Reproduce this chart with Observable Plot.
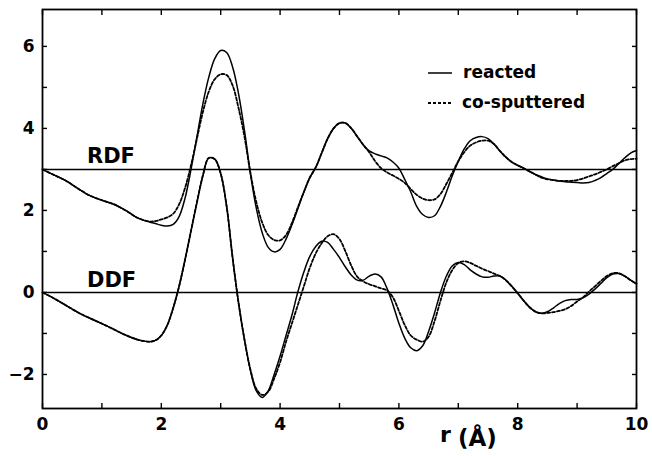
<!DOCTYPE html>
<html><head><meta charset="utf-8">
<script src="https://cdn.jsdelivr.net/npm/d3@7"></script>
<script src="https://cdn.jsdelivr.net/npm/@observablehq/plot@0.6"></script>
<style>body{margin:0;background:#fff} svg{display:block}</style>
</head><body><div id="chart"></div>
<script>
const r = [0,0.2,0.4,0.6,0.8,1.0,1.2,1.4,1.6,
  1.8,1.9,2.0,2.1,2.2,2.3,2.4,2.5,2.6,2.7,2.8,2.9,3.0,3.1,3.2,3.3,3.4,3.5,3.6,3.7,3.8,3.9,
  4.0,4.1,4.2,4.3,4.4,4.5,4.6,4.7,4.8,4.9,5.0,5.1,5.2,5.3,5.4,5.5,5.6,5.7,5.8,5.9,
  6.0,6.1,6.2,6.3,6.4,6.5,6.6,6.7,6.8,6.9,7.0,7.1,7.2,7.3,7.4,7.5,7.6,7.7,7.8,7.9,
  8.0,8.1,8.2,8.3,8.4,8.5,8.6,8.7,8.8,8.9,9.0,9.1,9.2,9.3,9.4,9.5,9.6,9.7,9.8,9.9,10.0];

const rdfReacted = [3.0,2.86,2.72,2.53,2.36,2.25,2.15,2.0,1.82,
  1.72,1.68,1.64,1.62,1.66,1.85,2.3,3.0,3.8,4.6,5.25,5.7,5.9,5.85,5.5,4.85,3.95,2.9,2.05,1.45,1.1,0.99,
  1.05,1.3,1.65,2.05,2.45,2.8,3.05,3.4,3.75,4.0,4.13,4.13,4.0,3.8,3.6,3.45,3.38,3.33,3.28,3.18,
  3.03,2.75,2.45,2.1,1.9,1.83,1.87,2.1,2.45,2.85,3.2,3.5,3.7,3.78,3.8,3.75,3.62,3.45,3.3,3.18,
  3.1,3.03,2.95,2.88,2.82,2.77,2.74,2.72,2.7,2.69,2.68,2.67,2.68,2.73,2.8,2.9,3.0,3.14,3.28,3.4,3.46];

const rdfCosputtered = [3.0,2.86,2.72,2.53,2.36,2.25,2.15,2.0,1.82,
  1.73,1.74,1.78,1.83,1.92,2.15,2.55,3.1,3.75,4.4,4.9,5.2,5.32,5.3,5.05,4.5,3.8,2.92,2.2,1.7,1.4,1.28,
  1.27,1.4,1.7,2.08,2.45,2.8,3.05,3.4,3.75,4.0,4.13,4.13,4.0,3.8,3.6,3.42,3.2,3.03,2.93,2.85,
  2.77,2.67,2.52,2.38,2.29,2.25,2.27,2.4,2.65,2.92,3.2,3.42,3.58,3.66,3.7,3.7,3.62,3.45,3.3,3.18,
  3.1,3.03,2.95,2.87,2.8,2.76,2.74,2.72,2.72,2.72,2.74,2.78,2.83,2.88,2.94,3.0,3.08,3.15,3.22,3.25,3.26];

const ddfReacted = [0,-0.15,-0.32,-0.49,-0.63,-0.76,-0.9,-1.04,-1.15,
  -1.2,-1.17,-1.05,-0.8,-0.38,0.15,0.8,1.5,2.2,2.85,3.28,3.25,2.9,2.1,0.85,-0.25,-1.15,-1.9,-2.4,-2.56,-2.4,-2.0,
  -1.55,-1.05,-0.55,0.02,0.5,0.88,1.12,1.25,1.22,1.05,0.85,0.62,0.42,0.3,0.3,0.4,0.45,0.38,0.1,-0.3,
  -0.75,-1.12,-1.35,-1.42,-1.3,-0.95,-0.5,0.0,0.4,0.65,0.73,0.68,0.55,0.45,0.38,0.37,0.4,0.4,0.3,0.15,
  -0.02,-0.2,-0.36,-0.47,-0.51,-0.47,-0.38,-0.27,-0.2,-0.17,-0.17,-0.13,-0.04,0.08,0.22,0.36,0.45,0.46,0.4,0.3,0.21];

const ddfCosputtered = [0,-0.15,-0.32,-0.49,-0.63,-0.76,-0.9,-1.04,-1.15,
  -1.2,-1.17,-1.05,-0.8,-0.38,0.15,0.8,1.5,2.2,2.85,3.28,3.25,2.9,2.1,0.85,-0.25,-1.15,-1.88,-2.35,-2.5,-2.42,-2.1,
  -1.7,-1.2,-0.75,-0.3,0.15,0.6,0.95,1.2,1.37,1.42,1.3,1.0,0.65,0.38,0.27,0.2,0.15,0.1,0.05,-0.12,
  -0.45,-0.8,-1.05,-1.15,-1.2,-1.08,-0.7,-0.2,0.25,0.55,0.72,0.76,0.72,0.65,0.58,0.52,0.46,0.4,0.3,0.15,
  -0.02,-0.2,-0.36,-0.47,-0.51,-0.5,-0.48,-0.45,-0.41,-0.33,-0.22,-0.12,0.02,0.15,0.28,0.4,0.47,0.47,0.4,0.3,0.21];

const xTicks = [0,1,2,3,4,5,6,7,8,9,10];
const xTickLabels = ["0","","2","","4","","6","","8","","10"];
const yTicks = [-2,-1,0,1,2,3,4,5,6];
const yTickLabels = ["\u22122","","0","","2","","4","","6"];
const baselines = [0, 3];
const panelLabels = ["RDF", "DDF"];
const seriesNames = ["reacted", "co-sputtered"];
const xLabel = ["r", "(\u00c5)"];

function rows(ys, series, panel) { return r.map((x, i) => ({r: x, v: ys[i], series, panel})); }
const reacted = [...rows(rdfReacted, seriesNames[0], "RDF"), ...rows(ddfReacted, seriesNames[0], "DDF")];
const cosp = [...rows(rdfCosputtered, seriesNames[1], "RDF"), ...rows(ddfCosputtered, seriesNames[1], "DDF")];

const fmtX = d => xTickLabels[xTicks.indexOf(d)];
const fmtY = d => yTickLabels[yTicks.indexOf(d)];
const none = () => "";

const plot = Plot.plot({
  width: 652, height: 456,
  marginLeft: 42, marginRight: 16, marginTop: 9, marginBottom: 48,
  x: {domain: [0, 10]},
  y: {domain: [-2.83, 6.9]},
  style: {fontFamily: "DejaVu Sans", fontWeight: "bold", fontSize: "16px", color: "#000", background: "#fff"},
  marks: [
    Plot.ruleY(baselines, {strokeWidth: 1.5}),
    Plot.line(cosp, {x: "r", y: "v", z: "panel", curve: "catmull-rom", strokeWidth: 1.8, strokeDasharray: "3,2"}),
    Plot.line(reacted, {x: "r", y: "v", z: "panel", curve: "catmull-rom", strokeWidth: 1.5}),
    // labels
    Plot.axisX({ticks: xTicks, tickFormat: fmtX, tickSize: 0, tickPadding: 9, label: null, fontSize: 17}),
    Plot.axisY({ticks: yTicks, tickFormat: fmtY, tickSize: 0, tickPadding: 8, label: null, fontSize: 17}),
    // inward ticks
    Plot.axisX({anchor: "bottom", ticks: xTicks, tickFormat: none, tickSize: 5, dy: -5, label: null, strokeWidth: 1.4}),
    Plot.axisX({anchor: "top", ticks: xTicks, tickFormat: none, tickSize: 5, dy: 5, label: null, strokeWidth: 1.4}),
    Plot.axisY({anchor: "left", ticks: yTicks, tickFormat: none, tickSize: 5, dx: 5, label: null, strokeWidth: 1.4}),
    Plot.axisY({anchor: "right", ticks: yTicks, tickFormat: none, tickSize: 5, dx: -5, label: null, strokeWidth: 1.4}),
    Plot.frame({strokeWidth: 1.8})
  ]
});

const svg = d3.select(plot);
function label(x, y, txt, size, weight) {
  svg.append("text").attr("x", x).attr("y", y).text(txt)
    .attr("text-anchor", "start")
    .attr("font-family", "DejaVu Sans").attr("font-size", size).attr("font-weight", weight);
}
// panel labels
label(87, 163, panelLabels[0], 21, "bold");
label(87, 287, panelLabels[1], 21, "bold");
// legend
svg.append("line").attr("x1", 428).attr("x2", 452).attr("y1", 73).attr("y2", 73).attr("stroke", "#000").attr("stroke-width", 1.5);
svg.append("line").attr("x1", 428).attr("x2", 452).attr("y1", 103).attr("y2", 103).attr("stroke", "#000").attr("stroke-width", 1.8).attr("stroke-dasharray", "3,2");
label(463, 78, seriesNames[0], 17, "bold");
label(462, 108, seriesNames[1], 17, "bold");
// x axis title
label(440, 442, xLabel[0], 22, "bold");
label(458, 446, xLabel[1], 23, "bold");

document.getElementById("chart").appendChild(plot);
</script>
</body></html>
